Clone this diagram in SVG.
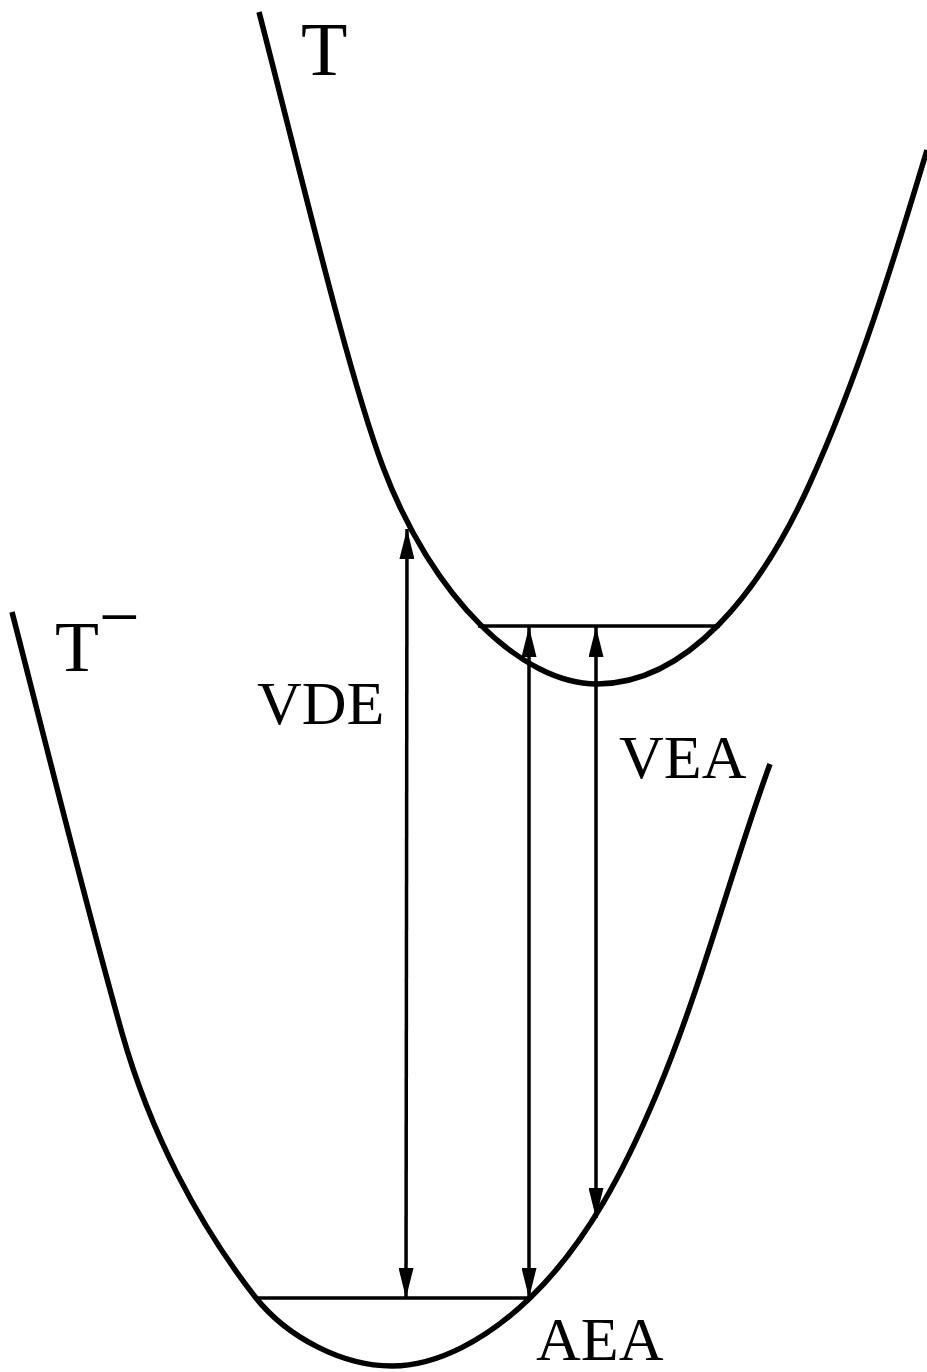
<svg xmlns="http://www.w3.org/2000/svg" width="927" height="1372" viewBox="0 0 927 1372">
<style>
.curve{fill:none;stroke:#000;stroke-width:5.5;stroke-linejoin:round}
.level{fill:none;stroke:#000;stroke-width:3.5}
.arr{fill:none;stroke:#000;stroke-width:3.5}
.lbl{font-family:"Liberation Serif","Times New Roman",serif;fill:#000}
</style>
<defs>
<marker id="ah" viewBox="0 0 30 15" refX="30" refY="7.5" markerWidth="30" markerHeight="15" markerUnits="userSpaceOnUse" orient="auto-start-reverse">
<path d="M0,0 L30,7.5 L0,15 Z" fill="#000"/>
</marker>
</defs>
<g id="curve-T">
<path class="curve" d="M259,12 C298.5,164 347.8,373.4 383,467 C432.3,598 522,684 597,684 C687,684 760.7,592.4 810,483 C858.5,375.4 893.1,263 927,150"/>
<line class="level" x1="478" y1="626" x2="720" y2="626"/>
</g>
<g id="curve-Tminus">
<path class="curve" d="M12,612 C48.1,752.4 82.8,893.4 122,1033 C150,1132 198,1224 256,1298 C287.3,1337 342,1366 392,1366 C437,1366 486.8,1339.6 530,1298 C587.6,1242.5 626,1166.8 657,1093 C702,986 730.2,872.9 770,764"/>
<line class="level" x1="255" y1="1298" x2="532" y2="1298"/>
</g>
<g id="connectors">
<line class="arr" x1="406" y1="1298" x2="407" y2="529" marker-start="url(#ah)" marker-end="url(#ah)"/>
<line class="arr" x1="529" y1="1298" x2="529" y2="627" marker-start="url(#ah)" marker-end="url(#ah)"/>
<line class="arr" x1="596" y1="627" x2="596" y2="1218" marker-start="url(#ah)" marker-end="url(#ah)"/>
</g>
<g id="labels">
<text class="lbl" x="301" y="75" font-size="76">T</text>
<text class="lbl" x="55" y="671" font-size="72">T<tspan font-size="72" dy="-30">−</tspan></text>
<text class="lbl" x="257" y="724" font-size="62">VDE</text>
<text class="lbl" x="619" y="778" font-size="62">VEA</text>
<text class="lbl" x="536" y="1360" font-size="62">AEA</text>
</g>
</svg>
